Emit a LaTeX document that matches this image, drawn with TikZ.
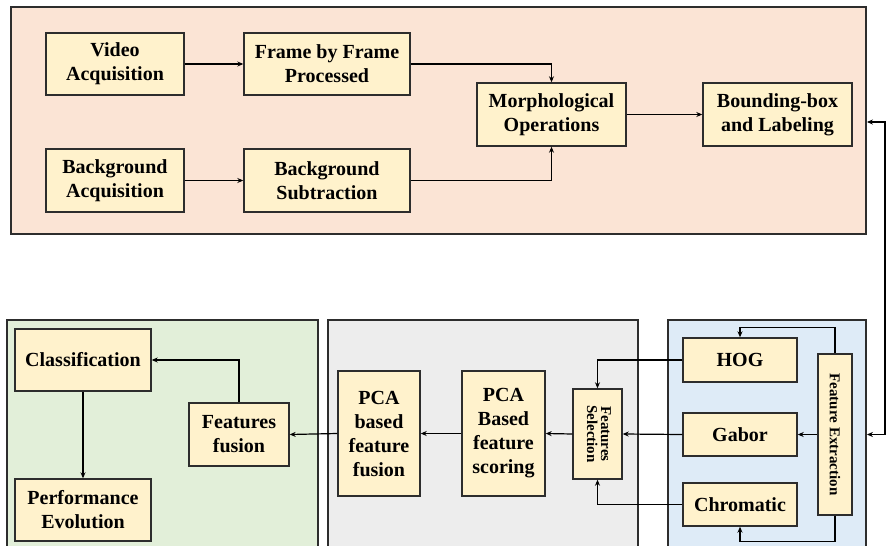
\documentclass[tikz,border=0pt]{standalone}
\usepackage{fontspec}
\setmainfont{Liberation Serif}
\usetikzlibrary{arrows.meta}

\definecolor{topfill}{RGB}{251,228,213}
\definecolor{boxfill}{RGB}{255,242,204}
\definecolor{greenfill}{RGB}{226,239,217}
\definecolor{grayfill}{RGB}{237,237,237}
\definecolor{bluefill}{RGB}{222,235,247}
\definecolor{edge}{RGB}{45,45,45}

\tikzset{
  panel/.style={draw=edge, line width=1.8pt, inner sep=0pt},
  box/.style={draw=edge, fill=boxfill, line width=1.4pt, inner sep=0pt, align=center,
    font=\fontsize{20}{24}\selectfont\bfseries},
  vbox/.style={box, font=\fontsize{15}{17}\selectfont\bfseries},
  arr/.style={line width=1.2pt, -{Stealth[length=6pt,width=5pt]}}
}

\begin{document}
\begin{tikzpicture}[x=1pt, y=-1pt]
        \useasboundingbox (0,0) rectangle (887,546);

        % panels
        \node[panel, fill=topfill, minimum width=855pt, minimum height=227pt] (top) at (438.5,120.5) {};
        \node[panel, fill=greenfill, minimum width=311pt, minimum height=240pt] (green) at (162.5,440) {};
        \node[panel, fill=grayfill, minimum width=310pt, minimum height=240pt] (gray) at (483,440) {};
        \node[panel, fill=bluefill, minimum width=198pt, minimum height=240pt] (blue) at (767,440) {};

        % top panel
        \node[box, minimum width=138pt, minimum height=62pt] (vid) at (115,64) {Video\\Acquisition};
        \node[box, minimum width=166pt, minimum height=62pt] (frm) at (327,64) {Frame by Frame\\Processed};
        \node[box, minimum width=138pt, minimum height=63pt] (bga) at (115,180.5) {Background\\Acquisition};
        \node[box, minimum width=166pt, minimum height=63pt] (bgs) at (327,180.5) {Background\\Subtraction};
        \node[box, minimum width=149pt, minimum height=63pt] (mor) at (551.5,114.5) {Morphological\\Operations};
        \node[box, minimum width=149pt, minimum height=63pt] (bbl) at (777.5,114.5) {Bounding-box\\and Labeling};

        \draw[arr] (vid) -- (frm);
        \draw[arr] (bga) -- (bgs);
        \draw[arr] (frm.east) -| (mor.north);
        \draw[arr] (bgs.east) -| (mor.south);
        \draw[arr] (mor) -- (bbl);

        % blue panel
        \node[box, minimum width=114pt, minimum height=44pt] (hog) at (740,360) {HOG};
        \node[box, minimum width=114pt, minimum height=43pt] (gab) at (740,434.5) {Gabor};
        \node[box, minimum width=114pt, minimum height=43pt] (chr) at (740,504.5) {Chromatic};
        \node[vbox, minimum width=34pt, minimum height=161pt] (fex) at (835,434.5)
          {\rotatebox{-90}{Feature Extraction}};

        \draw[arr] (fex.north) -- ++(0,-26) -| (hog.north);
        \draw[arr] (fex.south) -- ++(0,26) -| (chr.south);
        \draw[arr] (fex.west) -- (gab.east);

        % gray panel
        \node[vbox, minimum width=49pt, minimum height=90pt] (fsl) at (597.5,434)
          {\rotatebox{-90}{\begin{tabular}{@{}c@{}}Features\\[-3pt]Selection\end{tabular}}};
        \node[box, minimum width=83pt, minimum height=125pt] (pcs) at (503.5,433.5) {PCA\\Based\\feature\\scoring};
        \node[box, minimum width=82pt, minimum height=125pt] (pcf) at (379,433.5) {PCA\\based\\feature\\fusion};

        \draw[arr] (hog.west) -| (fsl.north);
        \draw[arr] (chr.west) -| (fsl.south);
        \draw[arr] (gab.west) -- (fsl.east);
        \draw[arr] (fsl.west) -- (pcs.east);
        \draw[arr] (pcs.west) -- (pcf.east);

        % green panel
        \node[box, minimum width=100pt, minimum height=63pt] (ffu) at (239,434.5) {Features\\fusion};
        \node[box, minimum width=136pt, minimum height=62pt] (cls) at (83,360) {Classification};
        \node[box, minimum width=136pt, minimum height=62pt] (pev) at (83,510) {Performance\\Evolution};

        \draw[arr] (pcf.west) -- (ffu.east);
        \draw[arr] (ffu.north) |- (cls.east);
        \draw[arr] (cls) -- (pev);

        % link between top and feature extraction
        \coordinate (rgt) at (885,122);
        \draw[arr, {Stealth[length=6pt,width=5pt]}-{Stealth[length=6pt,width=5pt]}]
          (top.east |- rgt) -- (rgt) |- (blue.east |- fex.center);
\end{tikzpicture}
\end{document}
